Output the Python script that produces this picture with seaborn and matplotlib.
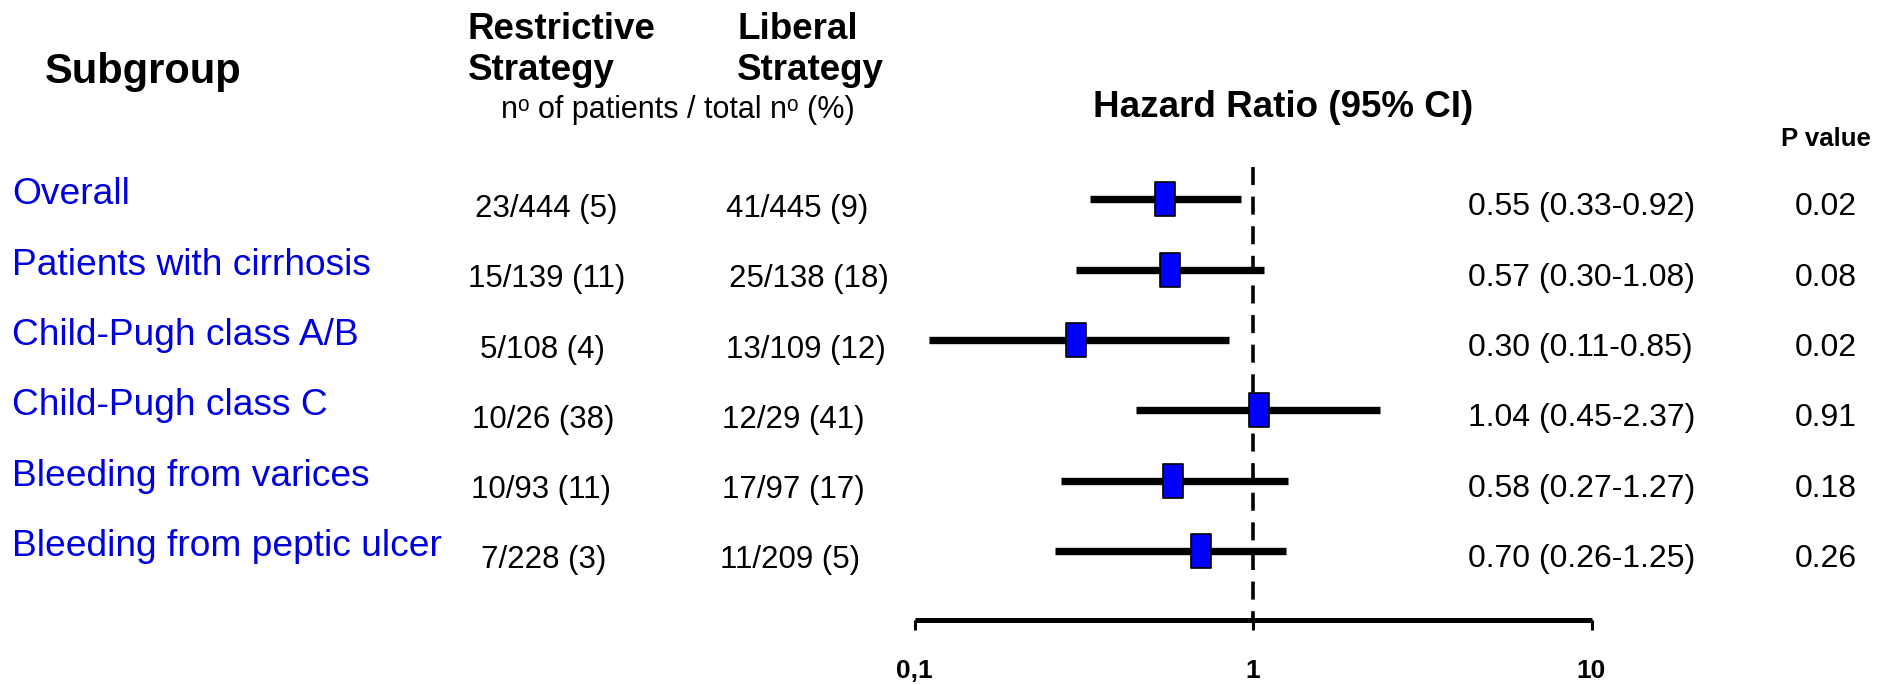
import matplotlib
matplotlib.use("Agg")
import matplotlib.pyplot as plt
from matplotlib import font_manager
from matplotlib.path import Path
from matplotlib.ticker import NullLocator
import pandas as pd
import seaborn as sns

# ---- data ----
subgroups = ["Overall", "Patients with cirrhosis", "Child-Pugh class A/B",
             "Child-Pugh class C", "Bleeding from varices", "Bleeding from peptic ulcer"]
restrictive = ["23/444 (5)", "15/139 (11)", "5/108 (4)", "10/26 (38)", "10/93 (11)", "7/228 (3)"]
liberal = ["41/445 (9)", "25/138 (18)", "13/109 (12)", "12/29 (41)", "17/97 (17)", "11/209 (5)"]
hazard_ratio = [0.55, 0.57, 0.30, 1.04, 0.58, 0.70]
ci_low = [0.33, 0.30, 0.11, 0.45, 0.27, 0.26]
ci_high = [0.92, 1.08, 0.85, 2.37, 1.27, 1.25]
p_values = ["0.02", "0.08", "0.02", "0.91", "0.18", "0.26"]
x_ticks = [0.1, 1, 10]
x_tick_labels = ["0,1", "1", "10"]

# ---- style ----
sns.set_style("white", {"xtick.bottom": True})
plt.rcParams["font.family"] = ["Liberation Sans", "DejaVu Sans"]
plt.rcParams["text.color"] = "black"
plt.rcParams["xtick.color"] = "black"
available = {f.name for f in font_manager.fontManager.ttflist}
narrow = "Liberation Sans Narrow" if "Liberation Sans Narrow" in available else "Liberation Sans"

W, H = 1884, 685
fig = plt.figure(figsize=(W / 100, H / 100), dpi=100)
fig.patch.set_facecolor("white")


def put(px, py, s, **kw):
    """Place text at pixel coordinates (origin top-left)."""
    kw.setdefault("va", "baseline")
    kw.setdefault("color", "black")
    fig.text(px / W, 1 - py / H, s, **kw)


# forest panel: log x axis, one row per subgroup
row0, row_step = 199.45, 70.29
ax = fig.add_axes([914.5 / W, 0, 677 / W, 1])
ax.set_facecolor("none")

df = pd.DataFrame({"hr": hazard_ratio, "lo": ci_low, "hi": ci_high,
                   "row": range(len(subgroups))})

ax.hlines(df["row"], df["lo"], df["hi"], color="black", lw=5.3,
          capstyle="butt", zorder=2)

box = Path([(-0.29, -0.5), (0.29, -0.5), (0.29, 0.5), (-0.29, 0.5), (-0.29, -0.5)],
           [Path.MOVETO, Path.LINETO, Path.LINETO, Path.LINETO, Path.CLOSEPOLY])
sns.scatterplot(data=df, x="hr", y="row", marker=box, s=620, color="#0000FF",
                edgecolor="black", linewidth=1.2, zorder=3, ax=ax, legend=False)

axis_row = (620 - row0) / row_step
top_row = (166.7 - row0) / row_step
ax.plot([1, 1], [top_row, axis_row], color="black", lw=2.6,
        dashes=(5.0, 3.2), dash_capstyle="butt", zorder=1)

ax.set_xscale("log")
ax.set_xlim(0.1, 10)
ax.set_ylim((H - row0) / row_step, -row0 / row_step)
ax.set_xlabel("")
ax.set_ylabel("")
ax.set_yticks([])
for side in ("top", "left", "right"):
    ax.spines[side].set_visible(False)
spine = ax.spines["bottom"]
spine.set_position(("data", axis_row))
spine.set_bounds(0.1, 10)
spine.set_linewidth(3.6)
spine.set_color("black")
spine.set_capstyle("butt")
ax.set_xticks(x_ticks)
ax.set_xticklabels(x_tick_labels)
ax.xaxis.set_minor_locator(NullLocator())
ax.tick_params(axis="x", which="major", bottom=True, direction="out", length=7.2,
               width=2.2, pad=21, labelsize=19, colors="black")
for lab in ax.get_xticklabels():
    lab.set_fontfamily(narrow)
    lab.set_fontweight("bold")

# ---- headers ----
put(45, 83, "Subgroup", fontsize=30, fontweight="bold")
put(468, 39, "Restrictive", fontsize=26.5, fontweight="bold")
put(468, 80, "Strategy", fontsize=26.5, fontweight="bold")
put(737, 39, "Liberal", fontsize=26.5, fontweight="bold")
put(737, 80, "Strategy", fontsize=26.5, fontweight="bold")
put(678, 118, "n\u1d52 of patients / total n\u1d52 (%)", fontsize=22, ha="center")
put(1283, 117, "Hazard Ratio (95% CI)", fontsize=26.5, fontweight="bold", ha="center")
put(1826, 146, "P value", fontsize=18.5, fontweight="bold", ha="center")

# ---- table columns ----
restrictive_x = [546, 547, 543, 543, 541, 544]
liberal_x = [797, 809, 806, 793, 793, 790]
for i, name in enumerate(subgroups):
    y = row0 + row_step * i
    put(12, y + 5, name, fontsize=26.7, color="#0000DD")
    put(restrictive_x[i], y + 17.5, restrictive[i], fontsize=22.5, ha="center")
    put(liberal_x[i], y + 17.5, liberal[i], fontsize=22.5, ha="center")
    hr_text = f"{hazard_ratio[i]:.2f} ({ci_low[i]:.2f}-{ci_high[i]:.2f})"
    put(1468, y + 16, hr_text, fontsize=23)
    put(1795, y + 16, p_values[i], fontsize=23)

fig.savefig("out.png", dpi=100, facecolor="white")
